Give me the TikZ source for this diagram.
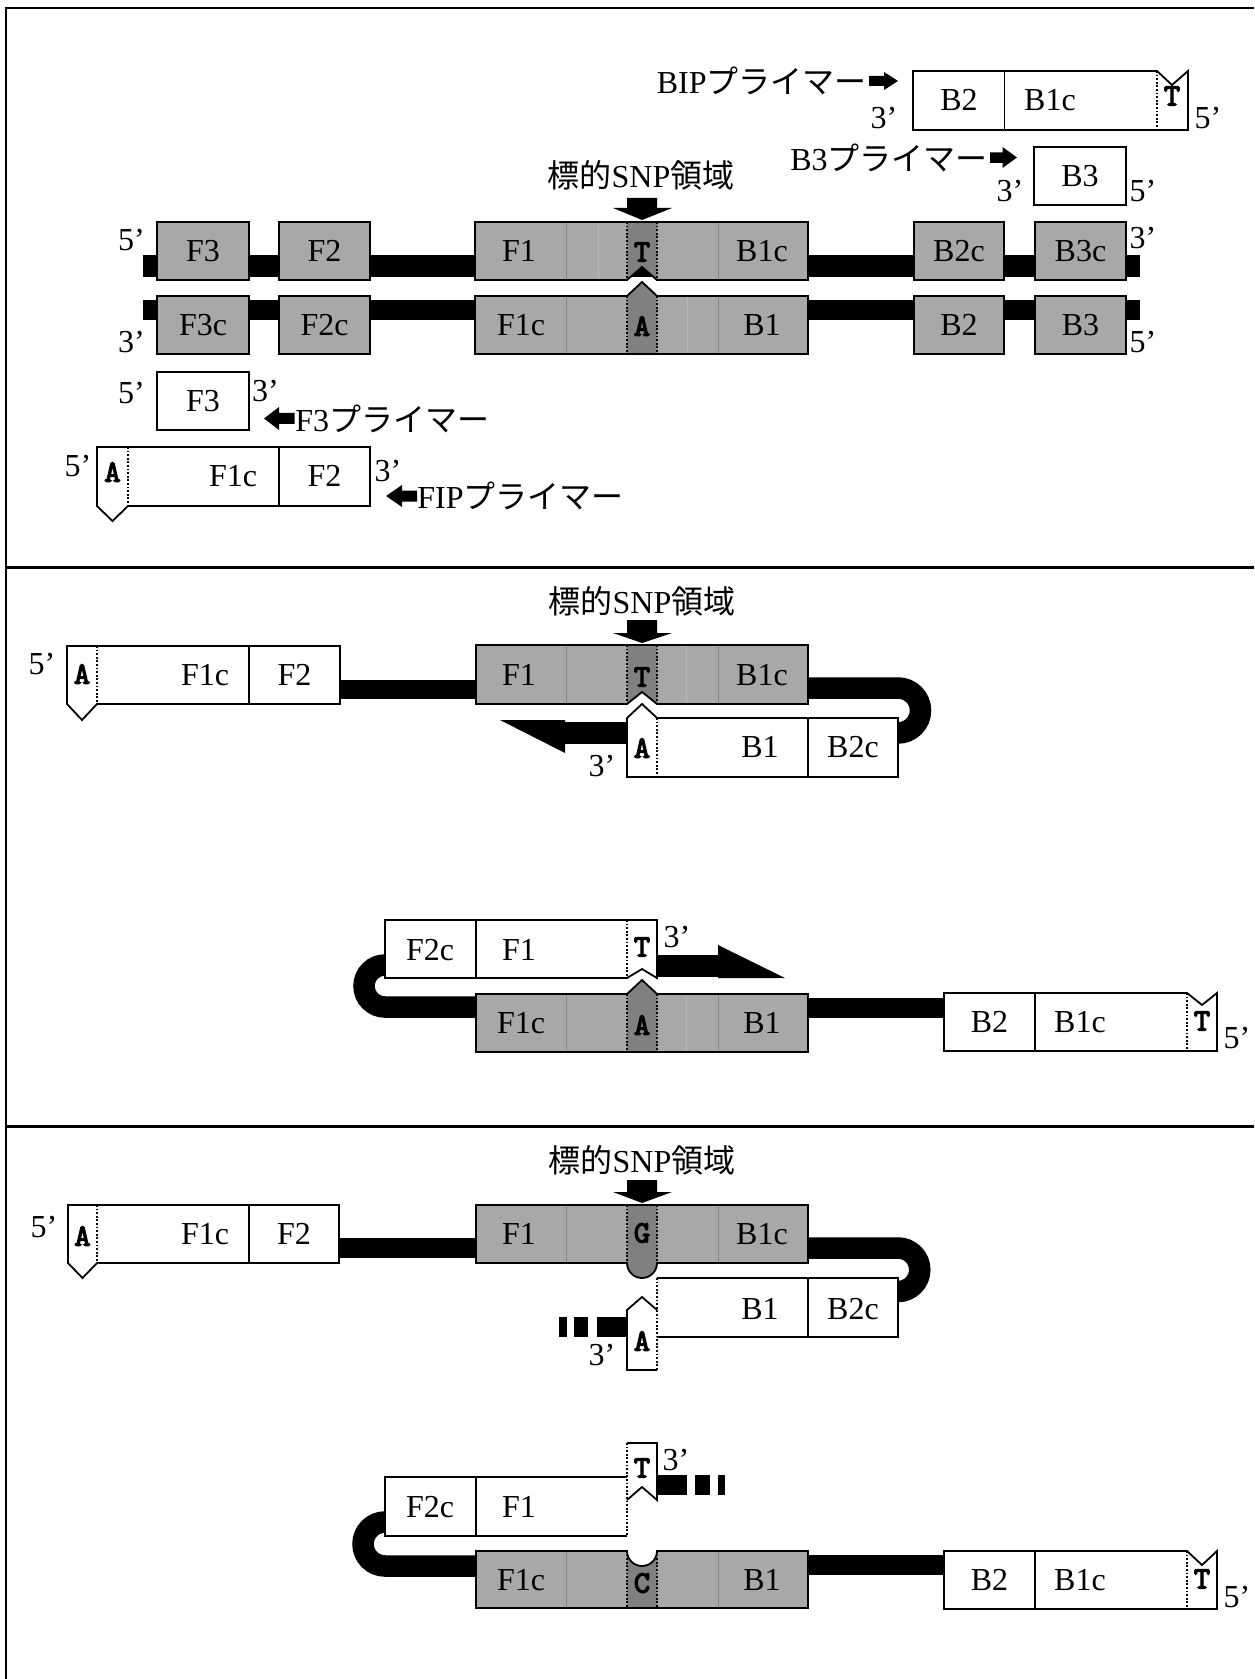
\documentclass[tikz,border=0pt]{standalone}
\usepackage{fontspec}
\setmainfont{Liberation Serif}
\newfontfamily\jpfont{Noto Sans CJK JP}
\newfontfamily\basefont[FakeBold=4]{lmmono10-regular.otf}
\definecolor{dnagrey}{RGB}{168,168,168}
\definecolor{snpgrey}{RGB}{128,128,128}
\definecolor{divgrey}{RGB}{135,135,135}
\definecolor{faintgrey}{RGB}{185,185,185}
\tikzset{
  outline/.style={draw=black, line width=0.9pt, line join=miter},
  greyblk/.style={outline, fill=dnagrey},
  whiteblk/.style={outline, fill=white},
  dots/.style={draw=black, line width=0.8pt, dash pattern=on 0.9pt off 0.9pt},
  divider/.style={draw=divgrey, line width=0.5pt},
  faintdiv/.style={draw=faintgrey, line width=0.5pt},
  loopline/.style={draw=black, line width=10.75pt},
  lab/.style={font=\fontsize{16}{16}\selectfont, inner sep=0pt},
  prime/.style={font=\fontsize{16}{16}\selectfont, inner sep=0pt},
  base/.style={font=\basefont\fontsize{15.5}{15.5}\selectfont, inner sep=0pt},
  jlab/.style={font=\fontsize{16}{16}\selectfont, inner sep=0pt},
  frameline/.style={draw=black, line width=1.2pt},
}
\newcommand{\snptext}{{\jpfont 標的}SNP{\jpfont 領域}}
\begin{document}
\begin{tikzpicture}[x=0.5pt,y=-0.5pt]
\useasboundingbox (0,0) rectangle (1254,1679);
\fill[white] (0,0) rectangle (1254,1679);

% ---------- frame ----------
\draw[frameline] (6,1679) -- (6,8) -- (1254,8);
\draw[frameline] (6,567.5) -- (1254,567.5);
\draw[frameline] (6,1126.5) -- (1254,1126.5);

% =========================================================
% Panel 1: double-stranded template and the four primers
% =========================================================
\fill[black] (143,255) rectangle (1140,277);
\fill[black] (143,300) rectangle (1140,320);

% upper strand
\draw[greyblk] (157,222) rectangle (249,280);
\draw[greyblk] (279,222) rectangle (370,280);
\draw[greyblk] (914,222) rectangle (1004,280);
\draw[greyblk] (1035,222) rectangle (1126,280);
\fill[dnagrey] (475,222) -- (808,222) -- (808,280) -- (657,280) -- (642,267) -- (627,280) -- (475,280) -- cycle;
\fill[snpgrey] (627,222) -- (657,222) -- (657,280) -- (642,267) -- (627,280) -- cycle;
\draw[divider] (566,222) -- (566,280) (718,222) -- (718,280);
\draw[faintdiv] (598,222) -- (598,280);
\draw[dots] (627,222) -- (627,280) (657,222) -- (657,280);
\draw[outline] (475,222) -- (808,222) -- (808,280) -- (657,280) -- (642,267) -- (627,280) -- (475,280) -- cycle;

% lower strand
\draw[greyblk] (157,296) rectangle (249,354);
\draw[greyblk] (279,296) rectangle (370,354);
\draw[greyblk] (914,296) rectangle (1004,354);
\draw[greyblk] (1035,296) rectangle (1126,354);
\fill[dnagrey] (475,296) -- (627,296) -- (642,282) -- (657,296) -- (808,296) -- (808,354) -- (475,354) -- cycle;
\fill[snpgrey] (627,296) -- (642,282) -- (657,296) -- (657,354) -- (627,354) -- cycle;
\draw[divider] (566,296) -- (566,354) (718,296) -- (718,354);
\draw[faintdiv] (687,296) -- (687,354);
\draw[dots] (627,296) -- (627,354) (657,296) -- (657,354);
\draw[outline] (475,296) -- (627,296) -- (642,282) -- (657,296) -- (808,296) -- (808,354) -- (475,354) -- cycle;

% SNP marker
\fill[black] (627,198) -- (657,198) -- (657,208) -- (672,208) -- (642,220) -- (613,208) -- (627,208) -- cycle;
\node[jlab] (snpA) at (641,175) {\snptext};

\node[lab] (uF3) at (203,251) {F3};
\node[lab] (uF2) at (324.5,251) {F2};
\node[lab] (uF1) at (519,251) {F1};
\node[base] (uT) at (642,252) {T};
\node[lab] (uB1c) at (762,251) {B1c};
\node[lab] (uB2c) at (959,251) {B2c};
\node[lab] (uB3c) at (1080.5,251) {B3c};
\node[lab] (lF3c) at (203,325) {F3c};
\node[lab] (lF2c) at (324.5,325) {F2c};
\node[lab] (lF1c) at (521,325) {F1c};
\node[base] (lA) at (642,326) {A};
\node[lab] (lB1) at (762,325) {B1};
\node[lab] (lB2) at (959,325) {B2};
\node[lab] (lB3) at (1080.5,325) {B3};
\node[prime] (e1) at (131.5,240) {5’};
\node[prime] (e2) at (131.5,342) {3’};
\node[prime] (e3) at (1143,238) {3’};
\node[prime] (e4) at (1143,342) {5’};

% BIP primer
\draw[whiteblk] (913,71) -- (1157,71) -- (1172,85) -- (1188,71) -- (1188,130) -- (913,130) -- cycle;
\draw[outline] (1004.5,71) -- (1004.5,130);
\draw[dots] (1157,71) -- (1157,130);
\node[lab] (bipB2) at (959,100) {B2};
\node[lab] (bipB1c) at (1050,100) {B1c};
\node[base] (bipT) at (1172,96) {T};
\node[prime] (bip3) at (884,118) {3’};
\node[prime] (bip5) at (1208,118) {5’};
\fill[black] (869,76) -- (884,76) -- (884,72) -- (898,81) -- (884,90) -- (884,86) -- (869,86) -- cycle;
\node[jlab, anchor=east] (bipname) at (867,81) {BIP{\jpfont プライマー}};

% B3 primer
\draw[whiteblk] (1034,147) rectangle (1126,205);
\node[lab] (b3B3) at (1080,176) {B3};
\node[prime] (b33) at (1010,191) {3’};
\node[prime] (b35) at (1143,191) {5’};
\fill[black] (990,152.5) -- (1002.5,152.5) -- (1002.5,147) -- (1017,157.5) -- (1002.5,168) -- (1002.5,163) -- (990,163) -- cycle;
\node[jlab, anchor=east] (b3name) at (988,158) {B3{\jpfont プライマー}};

% F3 primer
\draw[whiteblk] (157,372) rectangle (249,430);
\node[lab] (f3F3) at (203,401) {F3};
\node[prime] (f35) at (131.5,393) {5’};
\node[prime] (f33) at (265.5,391) {3’};
\fill[black] (294.5,413) -- (279,413) -- (279,407) -- (264,418.5) -- (279,430) -- (279,424) -- (294.5,424) -- cycle;
\node[jlab, anchor=west] (f3name) at (295,419) {F3{\jpfont プライマー}};

% FIP primer
\draw[whiteblk] (97,447) -- (370,447) -- (370,506) -- (128,506) -- (112.5,521) -- (97,506) -- cycle;
\draw[outline] (279,447) -- (279,506);
\draw[dots] (128,447) -- (128,506);
\node[base] (fipA) at (112.5,472) {A};
\node[lab] (fipF1c) at (233,476) {F1c};
\node[lab] (fipF2) at (324.5,476) {F2};
\node[prime] (fip5) at (78,466) {5’};
\node[prime] (fip3) at (388,471) {3’};
\fill[black] (417,490.5) -- (402,490.5) -- (402,485) -- (386,496) -- (402,507) -- (402,501.5) -- (417,501.5) -- cycle;
\node[jlab, anchor=west] (fipname) at (417,496) {FIP{\jpfont プライマー}};

% =========================================================
% Panel 2: matched base, extension proceeds
% =========================================================
\node[jlab] (snpB) at (642,601) {\snptext};
\fill[black] (627,620) -- (657,620) -- (657,633) -- (672,633) -- (642,643) -- (613,633) -- (627,633) -- cycle;

% FIP-derived 5' end
\fill[black] (340,680) rectangle (476,699);
\draw[whiteblk] (67,646) -- (340,646) -- (340,704) -- (97,704) -- (82,720) -- (67,704) -- cycle;
\draw[outline] (249,646) -- (249,704);
\draw[dots] (97,646) -- (97,704);
\node[base] (p2A1) at (82,674) {A};
\node[lab] (p2F1c) at (205,675) {F1c};
\node[lab] (p2F2) at (294.5,675) {F2};
\node[prime] (p2e5) at (42,664) {5’};

% right-hand loop
\draw[loopline] (808,688) -- (898,688) arc[start angle=-90, end angle=90, radius=22.5];

% template block
\fill[dnagrey] (476,645) -- (808,645) -- (808,704) -- (657,704) -- (642,692) -- (627,704) -- (476,704) -- cycle;
\fill[snpgrey] (627,645) -- (657,645) -- (657,704) -- (642,692) -- (627,704) -- cycle;
\draw[divider] (566,645) -- (566,704) (718,645) -- (718,704);
\draw[faintdiv] (686,645) -- (686,704);
\draw[dots] (627,645) -- (627,704) (657,645) -- (657,704);
\draw[outline] (476,645) -- (808,645) -- (808,704) -- (657,704) -- (642,692) -- (627,704) -- (476,704) -- cycle;
\node[lab] (p2F1) at (519,675) {F1};
\node[base] (p2T) at (642,677) {T};
\node[lab] (p2B1c) at (762,675) {B1c};

% annealed B1 / B2c and extension arrow
\fill[black] (565,722) rectangle (627,744);
\fill[black] (500,720) -- (565,720) -- (565,753) -- cycle;
\fill[white] (657,718) rectangle (898,777);
\draw[outline] (657,718) -- (898,718) -- (898,777) -- (657,777);
\draw[outline] (808,718) -- (808,777);
\fill[white] (657,777) -- (627,777) -- (627,718) -- (642,704) -- (657,718) -- cycle;
\draw[outline] (657,777) -- (627,777) -- (627,718) -- (642,704) -- (657,718);
\draw[dots] (657,718) -- (657,777);
\node[base] (p2A2) at (642,748) {A};
\node[lab] (p2B1) at (760,747) {B1};
\node[lab] (p2B2c) at (853,747) {B2c};
\node[prime] (p2e3a) at (602,766) {3’};

% lower structure: F-loop
\draw[loopline] (385,965) arc[start angle=-90, end angle=-270, radius=21] -- (476,1007);
\fill[black] (657,955) rectangle (718,977);
\fill[black] (718,945) -- (718,978) -- (785,978) -- cycle;
\draw[whiteblk] (385,920) -- (657,920) -- (657,978) -- (642,969) -- (627,978) -- (385,978) -- cycle;
\draw[outline] (476,920) -- (476,978);
\draw[dots] (627,920) -- (627,978);
\node[lab] (p2F2c) at (430,950) {F2c};
\node[lab] (p2F1b) at (519,950) {F1};
\node[base] (p2T2) at (642,947) {T};
\node[prime] (p2e3b) at (677,937) {3’};

\fill[black] (808,998) rectangle (944,1018);
\fill[dnagrey] (476,994) -- (627,994) -- (642,980) -- (657,994) -- (808,994) -- (808,1052) -- (476,1052) -- cycle;
\fill[snpgrey] (627,994) -- (642,980) -- (657,994) -- (657,1052) -- (627,1052) -- cycle;
\draw[divider] (566,994) -- (566,1052) (718,994) -- (718,1052);
\draw[faintdiv] (686,994) -- (686,1052);
\draw[dots] (627,994) -- (627,1052) (657,994) -- (657,1052);
\draw[outline] (476,994) -- (627,994) -- (642,980) -- (657,994) -- (808,994) -- (808,1052) -- (476,1052) -- cycle;
\node[lab] (p2F1c2) at (521,1023) {F1c};
\node[base] (p2A3) at (642,1025) {A};
\node[lab] (p2B1b) at (762,1023) {B1};

\draw[whiteblk] (944,993) -- (1187,993) -- (1202,1005) -- (1217,993) -- (1217,1051) -- (944,1051) -- cycle;
\draw[outline] (1035,993) -- (1035,1051);
\draw[dots] (1187,993) -- (1187,1051);
\node[lab] (p2B2) at (989.5,1022) {B2};
\node[lab] (p2B1cb) at (1080,1022) {B1c};
\node[base] (p2T3) at (1202,1021) {T};
\node[prime] (p2e5b) at (1237,1038) {5’};

% =========================================================
% Panel 3: mismatched base, extension blocked
% =========================================================
\node[jlab] (snpC) at (642,1160) {\snptext};
\fill[black] (627,1180) -- (657,1180) -- (657,1192) -- (672,1192) -- (642,1203) -- (613,1192) -- (627,1192) -- cycle;

\fill[black] (339,1238) rectangle (476,1258);
\draw[whiteblk] (68,1205) -- (339,1205) -- (339,1263) -- (97,1263) -- (82.5,1278) -- (68,1263) -- cycle;
\draw[outline] (249,1205) -- (249,1263);
\draw[dots] (97,1205) -- (97,1263);
\node[base] (p3A1) at (82.5,1236) {A};
\node[lab] (p3F1c) at (205,1234) {F1c};
\node[lab] (p3F2) at (294,1234) {F2};
\node[prime] (p3e5) at (44,1227) {5’};

\draw[loopline] (808,1248) -- (898,1248) arc[start angle=-90, end angle=90, radius=21.75];

\fill[dnagrey] (476,1205) -- (808,1205) -- (808,1263) -- (657,1263) arc[start angle=0, end angle=180, radius=15] -- (476,1263) -- cycle;
\fill[snpgrey] (627,1205) -- (657,1205) -- (657,1263) arc[start angle=0, end angle=180, radius=15] -- cycle;
\draw[divider] (566,1205) -- (566,1263) (718,1205) -- (718,1263);
\draw[dots] (627,1205) -- (627,1263) (657,1205) -- (657,1263);
\draw[outline] (476,1205) -- (808,1205) -- (808,1263) -- (657,1263) arc[start angle=0, end angle=180, radius=15] -- (476,1263) -- cycle;
\node[lab] (p3F1) at (519,1234) {F1};
\node[base] (p3G) at (642,1233) {G};
\node[lab] (p3B1c) at (762,1234) {B1c};

\fill[white] (657,1278) rectangle (898,1337);
\draw[outline] (657,1278) -- (898,1278) -- (898,1337) -- (657,1337);
\draw[outline] (808,1278) -- (808,1337);
\fill[white] (657,1370) -- (627,1370) -- (627,1310) -- (642,1297) -- (657,1310) -- cycle;
\draw[outline] (657,1370) -- (627,1370) -- (627,1310) -- (642,1297) -- (657,1310);
\draw[dots] (657,1278) -- (657,1370);
\node[lab] (p3B1) at (760,1309) {B1};
\node[lab] (p3B2c) at (853,1309) {B2c};
\node[base] (p3A2) at (642,1341) {A};
\node[prime] (p3e3a) at (602,1355) {3’};
\fill[black] (559,1317) rectangle (567,1337);
\fill[black] (574,1317) rectangle (588,1337);
\fill[black] (597,1317) rectangle (627,1337);

% lower structure
\draw[loopline] (385,1522) arc[start angle=-90, end angle=-270, radius=22] -- (476,1566);
\fill[white] (385,1477) rectangle (627,1536);
\draw[outline] (627,1477) -- (385,1477) -- (385,1536) -- (627,1536);
\draw[outline] (476,1477) -- (476,1536);
\fill[white] (627,1443) -- (657,1443) -- (657,1500) -- (642,1487) -- (627,1500) -- cycle;
\draw[outline] (627,1443) -- (657,1443) -- (657,1500) -- (642,1487) -- (627,1500);
\draw[dots] (627,1443) -- (627,1536);
\node[lab] (p3F2c) at (430,1507) {F2c};
\node[lab] (p3F1b) at (519,1507) {F1};
\node[base] (p3T1) at (642,1468) {T};
\node[prime] (p3e3b) at (676,1460) {3’};
\fill[black] (657,1475) rectangle (687,1495);
\fill[black] (695,1475) rectangle (710,1495);
\fill[black] (718,1475) rectangle (725,1495);

\fill[black] (808,1555) rectangle (944,1575);
\fill[dnagrey] (476,1551) -- (627,1551) arc[start angle=180, end angle=0, radius=15] -- (808,1551) -- (808,1608) -- (476,1608) -- cycle;
\fill[snpgrey] (627,1608) -- (627,1551) arc[start angle=180, end angle=0, radius=15] -- (657,1608) -- cycle;
\draw[divider] (566,1551) -- (566,1608) (718,1551) -- (718,1608);
\draw[dots] (627,1551) -- (627,1608) (657,1551) -- (657,1608);
\draw[outline] (476,1551) -- (627,1551) arc[start angle=180, end angle=0, radius=15] -- (808,1551) -- (808,1608) -- (476,1608) -- cycle;
\node[lab] (p3F1c2) at (521,1580) {F1c};
\node[base] (p3C) at (642,1583) {C};
\node[lab] (p3B1b) at (762,1580) {B1};

\draw[whiteblk] (944,1551) -- (1187,1551) -- (1202,1565) -- (1217,1551) -- (1217,1609) -- (944,1609) -- cycle;
\draw[outline] (1035,1551) -- (1035,1609);
\draw[dots] (1187,1551) -- (1187,1609);
\node[lab] (p3B2) at (989.5,1580) {B2};
\node[lab] (p3B1cb) at (1080,1580) {B1c};
\node[base] (p3T2) at (1202,1579) {T};
\node[prime] (p3e5b) at (1237,1597) {5’};
\end{tikzpicture}
\end{document}
